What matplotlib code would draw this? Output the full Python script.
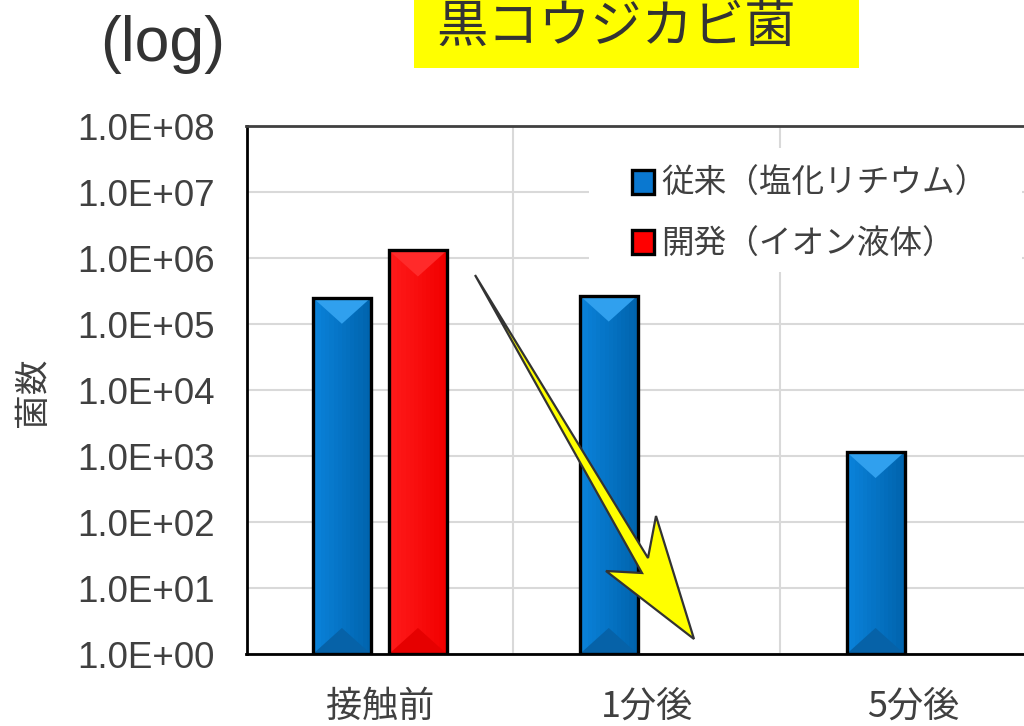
import numpy as np
import matplotlib
matplotlib.use("Agg")
import matplotlib.pyplot as plt
from matplotlib.patches import Rectangle, Polygon
from matplotlib.colors import to_rgb

# ---- data ----
categories = ['接触前', '1分後', '5分後']
conventional = [2.5e5, 2.7e5, 1.15e3]       # 従来（塩化リチウム）
developed = [1.3e6, np.nan, np.nan]         # 開発（イオン液体）
series_names = ['従来（塩化リチウム）', '開発（イオン液体）']
ytick_labels = ['1.0E+00', '1.0E+01', '1.0E+02', '1.0E+03', '1.0E+04',
                '1.0E+05', '1.0E+06', '1.0E+07', '1.0E+08']
title_text = '黒コウジカビ菌'
ylabel_text = '菌数'
log_text = '(log)'

JP = ['Noto Sans CJK JP', 'DejaVu Sans']
LAT = ['Liberation Sans', 'DejaVu Sans']
TXT = '#404040'

W, H = 1024, 726
fig = plt.figure(figsize=(W / 100, H / 100), dpi=100)
fig.patch.set_facecolor('white')

def fx(px):
    return px / W

def fy(py):
    return 1 - py / H

ax = fig.add_axes([fx(246.5), fy(654), fx(1047) - fx(246.5), fy(126) - fy(654)])
ax.set_yscale('log')
ax.set_ylim(1, 1e8)
ax.set_xlim(-0.5, len(categories) - 0.5)

x = np.arange(len(categories))
bw = 0.217
off = 0.1425

blue = '#0A78D0'
red = '#FF0000'

conv = np.array(conventional, dtype=float)
dev = np.array(developed, dtype=float)
mask_dev = ~np.isnan(dev)

b1 = ax.bar(x - off, conv - 1, width=bw, bottom=1, color=blue, zorder=2, linewidth=0)
b2 = ax.bar(x[mask_dev] + off, dev[mask_dev] - 1, width=bw, bottom=1, color=red, zorder=2, linewidth=0)
# outlines
ax.bar(x - off, conv - 1, width=bw, bottom=1, facecolor='none', edgecolor='black', linewidth=2.4, zorder=5)
ax.bar(x[mask_dev] + off, dev[mask_dev] - 1, width=bw, bottom=1, facecolor='none', edgecolor='black', linewidth=2.4, zorder=5)

# grid
ax.set_yticks([10.0 ** i for i in range(9)])
ax.yaxis.set_minor_locator(matplotlib.ticker.NullLocator())
ax.set_yticklabels(ytick_labels, fontsize=26.5, family=LAT, color=TXT)
ax.tick_params(axis='y', length=0, pad=23)
ax.set_xticks(x)
ax.set_xticklabels(categories, fontsize=26, family=JP, color=TXT)
ax.tick_params(axis='x', length=0, pad=25)
ax.grid(axis='y', color='#D9D9D9', linewidth=1.5, zorder=0)
for b in np.arange(0.5, len(categories), 1.0):
    ax.axvline(b, color='#D9D9D9', linewidth=1.5, zorder=0)
ax.set_axisbelow(True)
for s in ['left', 'bottom']:
    ax.spines[s].set_color('black')
    ax.spines[s].set_linewidth(2)
ax.spines['top'].set_color('#404040')
ax.spines['top'].set_linewidth(2)
ax.spines['right'].set_visible(False)

# bevel / gradient decorations computed from the bar patches
fig.canvas.draw()
inv = ax.transAxes.inverted()

def mix(c1, c2, t):
    a, b = np.array(to_rgb(c1)), np.array(to_rgb(c2))
    return tuple(a + (b - a) * t)

def decorate(patch, left, right, topc, botc):
    xd0, yd0 = patch.get_x(), patch.get_y()
    xd1, yd1 = xd0 + patch.get_width(), yd0 + patch.get_height()
    (X0, Y0), (X1, Y1) = ax.transData.transform([[xd0, yd0], [xd1, yd1]])
    n = 14
    xs = np.linspace(X0, X1, n + 1)
    for i in range(n):
        pts = inv.transform([[xs[i], Y0], [xs[i + 1] + 0.5, Y0], [xs[i + 1] + 0.5, Y1], [xs[i], Y1]])
        ax.add_patch(Polygon(pts, closed=True, transform=ax.transAxes,
                             facecolor=mix(left, right, i / (n - 1)), edgecolor='none', zorder=3))
    d = 0.45 * (X1 - X0)
    d = min(d, (Y1 - Y0) / 2)
    xm = (X0 + X1) / 2
    top = inv.transform([[X0, Y1], [X1, Y1], [xm, Y1 - d]])
    bot = inv.transform([[X0, Y0], [X1, Y0], [xm, Y0 + d]])
    ax.add_patch(Polygon(top, closed=True, transform=ax.transAxes, facecolor=topc,
                         edgecolor='none', zorder=4))
    ax.add_patch(Polygon(bot, closed=True, transform=ax.transAxes, facecolor=botc,
                         edgecolor='none', zorder=4))

for p in b1.patches:
    decorate(p, '#0A82DA', '#0064AE', '#30A0EE', '#0662A8')
for p in b2.patches:
    decorate(p, '#FF1A1A', '#F20000', '#FF2A2A', '#E60000')

# white legend background area
ax.add_patch(Rectangle((fx(589), fy(272)), fx(1022) - fx(589), fy(148) - fy(272),
                       transform=fig.transFigure, facecolor='white', edgecolor='none', zorder=1))

# legend
handles = [Rectangle((0, 0), 1, 1, facecolor=blue, edgecolor='black', linewidth=2.4),
           Rectangle((0, 0), 1, 1, facecolor=red, edgecolor='black', linewidth=2.4)]
leg = ax.legend(handles, series_names, loc='upper left',
                bbox_to_anchor=(fx(616), fy(152)), bbox_transform=fig.transFigure,
                prop={'family': JP, 'size': 23.5}, frameon=False,
                handlelength=0.66, handleheight=0.74, handletextpad=0.22,
                labelspacing=0.86, borderpad=0.5, borderaxespad=0)
for t in leg.get_texts():
    t.set_color(TXT)
leg.set_zorder(6)

# arrow (annotation shape, figure pixel positions)
arrow_px = [(475, 275), (648, 558), (656, 516), (694, 639), (606, 571), (642, 573)]
arrow = Polygon([(fx(a), fy(b)) for a, b in arrow_px], closed=True, transform=fig.transFigure,
                facecolor='#FFFF00', edgecolor='#333333', linewidth=1.6, joinstyle='miter', zorder=10)
fig.patches.append(arrow)

# title box
fig.patches.append(Rectangle((fx(414), fy(68)), fx(859) - fx(414), 1.1 - fy(68),
                             transform=fig.transFigure, facecolor='#FFFF00', edgecolor='none', zorder=0))
fig.text(fx(436), fy(42), title_text, fontsize=37, family=JP, color='#333333',
         ha='left', va='baseline')

# (log)
fig.text(fx(100), fy(61), log_text, fontsize=45, family=LAT, color='#333333',
         ha='left', va='baseline')

# y label
fig.text(fx(34), fy(392), ylabel_text, fontsize=25, family=JP, color=TXT,
         rotation=90, ha='center', va='center')

fig.savefig('out.png', dpi=100)
